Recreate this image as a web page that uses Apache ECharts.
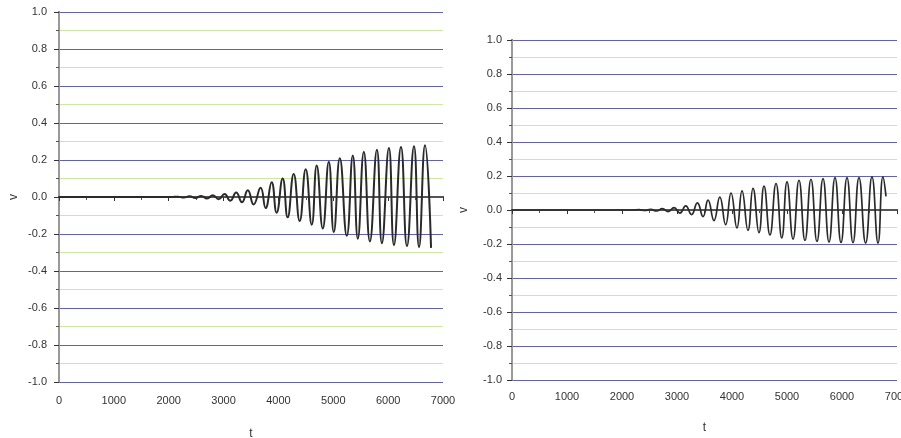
<!DOCTYPE html>
<html>
<head>
<meta charset="utf-8">
<script src="https://cdn.jsdelivr.net/npm/echarts@6/dist/echarts.min.js"></script>
<style>
  html, body { margin: 0; padding: 0; background: #ffffff; }
  #chart { width: 901px; height: 438px; }
</style>
</head>
<body>
<div id="chart"></div>
<script>
// Response v(t) of two runs: quiet start, then a growing oscillation.
// Each run is given by its turning points (peaks and troughs).
const xTicks = [0, 1000, 2000, 3000, 4000, 5000, 6000, 7000];
const yTicks = [-1.0, -0.8, -0.6, -0.4, -0.2, 0.0, 0.2, 0.4, 0.6, 0.8, 1.0];

const leftT = [0, 2050, 2169, 2275, 2381, 2487, 2593, 2699, 2805, 2911, 3017, 3123, 3229, 3335, 3441,
  3547, 3675, 3766, 3876, 3967, 4077, 4168, 4278, 4387, 4497, 4607, 4698, 4808, 4918, 5009, 5119,
  5246, 5356, 5447, 5557, 5667, 5795, 5886, 6014, 6106, 6234, 6343, 6471, 6563, 6672, 6782];
const leftV = [0, 0, 0.002, -0.003, 0.004, -0.005, 0.006, -0.008, 0.010, -0.012, 0.016, -0.020, 0.024, -0.028, 0.036,
  -0.040, 0.050, -0.060, 0.080, -0.085, 0.100, -0.110, 0.125, -0.130, 0.150, -0.150, 0.170, -0.170, 0.190, -0.190, 0.210,
  -0.210, 0.225, -0.225, 0.245, -0.240, 0.255, -0.250, 0.265, -0.260, 0.270, -0.265, 0.275, -0.270, 0.280, -0.275];

const rightT = [0, 2200, 2310, 2416, 2522, 2628, 2734, 2840, 2946, 3052, 3158, 3264, 3370, 3473,
  3564, 3672, 3778, 3884, 3982, 4090, 4182, 4290, 4382, 4490, 4582, 4690, 4800, 4905, 5000, 5110,
  5218, 5327, 5436, 5545, 5655, 5764, 5873, 5982, 6091, 6200, 6309, 6430, 6545, 6655, 6745, 6800];
const rightV = [0, 0, 0.002, -0.003, 0.004, -0.006, 0.008, -0.010, 0.014, -0.018, 0.024, -0.027, 0.042, -0.039,
  0.058, -0.062, 0.076, -0.086, 0.100, -0.105, 0.113, -0.120, 0.127, -0.133, 0.140, -0.146, 0.156, -0.164, 0.166, -0.171,
  0.175, -0.179, 0.181, -0.185, 0.185, -0.189, 0.190, -0.191, 0.190, -0.192, 0.191, -0.195, 0.195, -0.195, 0.195, 0.080];

const pairs = (ts, vs) => ts.map((t, i) => [t, vs[i]]);

const FONT = 'Liberation Sans';
const labelColor = '#333';

function bottomAxis(gridIndex, labelMargin, nameGap) {
  return {
    gridIndex, type: 'value', min: xTicks[0], max: xTicks[xTicks.length - 1], interval: 1000,
    name: 't', nameLocation: 'middle', nameGap,
    nameTextStyle: { color: labelColor, fontSize: 12, fontFamily: FONT },
    axisLine: { lineStyle: { color: '#333', width: 2 } },
    axisTick: { show: true, length: 4, lineStyle: { color: '#333' } },
    minorTick: { show: true, splitNumber: 2, length: 3, lineStyle: { color: '#555' } },
    axisLabel: { color: labelColor, fontSize: 11, fontFamily: FONT, margin: labelMargin,
      formatter: v => String(v) },
    splitLine: { show: false }
  };
}
function topAxis(gridIndex) {
  return {
    gridIndex, type: 'value', position: 'top', min: 0, max: 7000,
    axisLine: { lineStyle: { color: '#555', width: 2 } },
    axisTick: { show: false }, axisLabel: { show: false }, splitLine: { show: false }
  };
}
function leftAxis(gridIndex, nameGap, labelMargin) {
  return {
    gridIndex, type: 'value', min: yTicks[0], max: yTicks[yTicks.length - 1], interval: 0.2,
    name: 'v', nameLocation: 'middle', nameGap, nameRotate: 90,
    nameTextStyle: { color: labelColor, fontSize: 12, fontFamily: FONT },
    axisLine: { show: true, lineStyle: { color: '#333', width: 2 } },
    axisTick: { show: true, length: 5, lineStyle: { color: '#333' } },
    minorTick: { show: true, splitNumber: 2, length: 3, lineStyle: { color: '#555' } },
    axisLabel: { color: labelColor, fontSize: 11, fontFamily: FONT, margin: labelMargin,
      formatter: v => v.toFixed(1) },
    splitLine: { show: true, lineStyle: { color: '#5f5fc2', width: 1 } },
    minorSplitLine: { show: true, lineStyle: { color: '#cce8a2', width: 1 } }
  };
}
function rightAxis(gridIndex) {
  return {
    gridIndex, type: 'value', position: 'right', min: -1, max: 1,
    axisLine: { show: true, lineStyle: { color: '#999', width: 2 } },
    axisTick: { show: false }, axisLabel: { show: false }, splitLine: { show: false }
  };
}

const chart = echarts.init(document.getElementById('chart'), null, { renderer: 'canvas' });
chart.setOption({
  animation: false,
  backgroundColor: '#ffffff',
  grid: [
    { left: 59, top: 12, width: 384, height: 370, containLabel: false, outerBoundsMode: 'none' },
    { left: 512, top: 40, width: 385, height: 340, containLabel: false, outerBoundsMode: 'none' }
  ],
  xAxis: [bottomAxis(0, 13, 46), topAxis(0), bottomAxis(1, 11, 42), topAxis(1)],
  yAxis: [leftAxis(0, 39, 12), rightAxis(0), leftAxis(1, 42, 10), rightAxis(1)],
  series: [
    {
      type: 'line', xAxisIndex: 0, yAxisIndex: 0, data: pairs(leftT, leftV),
      smooth: 0.5, showSymbol: false, lineStyle: { color: '#2a2a2a', width: 2 }
    },
    {
      type: 'line', xAxisIndex: 2, yAxisIndex: 2, data: pairs(rightT, rightV),
      smooth: 0.5, showSymbol: false, lineStyle: { color: '#2a2a2a', width: 1.7 }
    }
  ]
});
</script>
</body>
</html>
